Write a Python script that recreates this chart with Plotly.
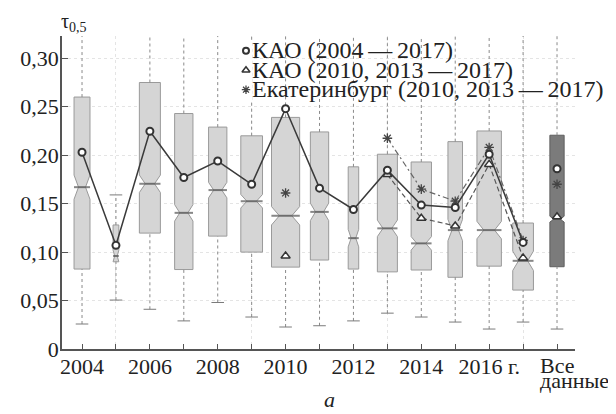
import plotly.graph_objects as go

# ---------------- data ----------------
positions = [2004, 2005, 2006, 2007, 2008, 2009, 2010, 2011, 2012, 2013, 2014, 2015, 2016, 2017, 2018]
categories = ["2004", "2005", "2006", "2007", "2008", "2009", "2010", "2011", "2012",
              "2013", "2014", "2015", "2016", "2017", "Все данные"]
lower_whisker = [0.0258, 0.0505, 0.041, 0.029, 0.048, 0.033, 0.0227, 0.024, 0.029,
                 0.037, 0.033, 0.0278, 0.0206, 0.0278, 0.0206]
q1 = [0.0825, 0.090, 0.1196, 0.0820, 0.1165, 0.100, 0.0845, 0.0918, 0.0825,
      0.0796, 0.0815, 0.074, 0.0855, 0.0608, 0.0849]
median = [0.167, 0.096, 0.1705, 0.1405, 0.164, 0.1525, 0.1375, 0.1415, 0.1144,
          0.1245, 0.109, 0.1227, 0.1227, 0.091, 0.134]
q3 = [0.260, 0.128, 0.275, 0.243, 0.229, 0.220, 0.239, 0.224, 0.188,
      0.201, 0.193, 0.214, 0.225, 0.130, 0.2206]
upper_whisker = [0.34, 0.159, 0.34, 0.34, 0.34, 0.34, 0.34, 0.34, 0.34,
                 0.34, 0.34, 0.34, 0.34, 0.34, 0.34]
notch_half = [0.0125, 0.006, 0.009, 0.0085, 0.008, 0.007, 0.0095, 0.009, 0.009,
              0.0085, 0.007, 0.011, 0.009, 0.010, 0.003]
box_width = [0.47, 0.17, 0.62, 0.54, 0.54, 0.64, 0.83, 0.54, 0.31,
             0.59, 0.60, 0.43, 0.72, 0.61, 0.42]

kao_all = [0.203, 0.107, 0.2247, 0.177, 0.194, 0.170, 0.248, 0.166, 0.144,
           0.1845, 0.1485, 0.146, 0.201, 0.110, 0.186]

sub_years = [2010, 2011, 2012, 2013, 2014, 2015, 2016, 2017]
kao_sub = [0.096, None, None, 0.180, 0.135, 0.127, 0.1905, 0.094]
ekb_sub = [0.161, None, None, 0.2175, 0.165, 0.1525, 0.208, 0.112]
kao_sub_all = 0.1364
ekb_sub_all = 0.170

legend_names = ["КАО (2004\u2009—\u20092017)",
                "КАО (2010, 2013\u2009—\u20092017)",
                "Екатеринбург (2010, 2013\u2009—\u20092017)"]
legend_rows = [0, 1, 2]

y_ticks = [0, 0.05, 0.10, 0.15, 0.20, 0.25, 0.30]
y_ticktext = ["0", "0,05", "0,10", "0,15", "0,20", "0,25", "0,30"]
x_ticktext = ["2004", "", "2006", "", "2008", "", "2010", "", "2012", "",
              "2014", "", "2016 г.", "", ""]

# ---------------- geometry / style ----------------
OFF = 8                     # page body margin of the browser
W, H = 608, 406             # figure size (page 616x414 incl. body margin)
L, R, T, B = 54, 41, 28, 65
X_RANGE = [2003.41, 2018.53]
Y_RANGE = [0, 0.323]
PX_PER_X = (W - L - R) / (X_RANGE[1] - X_RANGE[0])
NOTCHW = 0.28
SERIF = "Liberation Serif, Tinos, Times New Roman, DejaVu Serif, serif"
INK = "#222222"
MK = "#333333"


def px(xp):
    """page pixel x -> paper fraction"""
    return (xp - OFF - L) / (W - L - R)


def py(yp):
    """page pixel y -> paper fraction"""
    return (H - B - (yp - OFF)) / (H - T - B)


fig = go.Figure()

# whiskers (dotted)
wx, wy = [], []
for p, lw, a, b, uw in zip(positions, lower_whisker, q1, q3, upper_whisker):
    wx += [p, p, None, p, p, None]
    wy += [lw, a, None, b, uw, None]
fig.add_trace(go.Scatter(x=wx, y=wy, mode="lines", showlegend=False, hoverinfo="skip",
                         line=dict(color="#8a8a8a", width=1, dash="dot")))
# whisker caps
fig.add_trace(go.Scatter(x=positions + positions, y=lower_whisker + upper_whisker,
                         mode="markers", showlegend=False, hoverinfo="skip",
                         marker=dict(symbol="line-ew", size=9, color="#7a7a7a",
                                     line=dict(color="#7a7a7a", width=1))))

# boxes
for i, p in enumerate(positions):
    last = (i == len(positions) - 1)
    fig.add_trace(go.Box(
        x=[p], q1=[q1[i]], median=[median[i]], q3=[q3[i]],
        lowerfence=[q1[i]], upperfence=[q3[i]],
        notched=True, notchspan=[notch_half[i]], notchwidth=NOTCHW,
        width=box_width[i], whiskerwidth=0, boxpoints=False,
        fillcolor="#7b7b7b" if last else "#d5d5d5",
        line=dict(color="#5f5f5f" if last else "#9a9a9a", width=1),
        name=categories[i], showlegend=False))

# median lines (darker)
fig.add_trace(go.Scatter(
    x=positions[:-1], y=median[:-1], mode="markers", showlegend=False, hoverinfo="skip",
    marker=dict(symbol="line-ew", color="#555555",
                size=[w * PX_PER_X * (1 - NOTCHW) for w in box_width[:-1]],
                line=dict(color="#555555", width=2))))

star = dict(symbol="asterisk-open", size=8, color="#444444", line=dict(color="#444444", width=1.3))
tri = dict(symbol="triangle-up", size=8, color="white", line=dict(color=MK, width=1.5))
circ = dict(symbol="circle", size=7, color="white", line=dict(color=MK, width=2))

# series lines
fig.add_trace(go.Scatter(x=sub_years, y=ekb_sub, mode="lines+markers", showlegend=False,
                         line=dict(color="#666666", width=1.2, dash="6px,3px,2px,3px"),
                         marker=star))
fig.add_trace(go.Scatter(x=sub_years, y=kao_sub, mode="lines+markers", showlegend=False,
                         line=dict(color="#555555", width=1.2, dash="5px,3px"),
                         marker=tri))
fig.add_trace(go.Scatter(x=positions[:-1], y=kao_all[:-1], mode="lines+markers", showlegend=False,
                         line=dict(color="#3a3a3a", width=1.5), marker=circ))
# "all data" markers
fig.add_trace(go.Scatter(x=[positions[-1]], y=[kao_all[-1]], mode="markers", showlegend=False,
                         marker=circ))
fig.add_trace(go.Scatter(x=[positions[-1]], y=[ekb_sub_all], mode="markers", showlegend=False,
                         marker=star))
fig.add_trace(go.Scatter(x=[positions[-1]], y=[kao_sub_all], mode="markers", showlegend=False,
                         marker=tri))

# helper trace to activate the sparse vertical grid of xaxis2
fig.add_trace(go.Scatter(x=[None], y=[None], xaxis="x2", showlegend=False, hoverinfo="skip"))

# legend keys on a small helper axis (text as annotations)
key_markers = [dict(circ, size=6), dict(tri, size=7), dict(star, size=7)]
for row, m in zip(legend_rows, key_markers):
    fig.add_trace(go.Scatter(x=[0], y=[row], mode="markers", xaxis="x3", yaxis="y3",
                             showlegend=False, hoverinfo="skip", marker=m))

annotations = []
for row, name in zip(legend_rows, legend_names):
    annotations.append(dict(text=name, xref="paper", yref="paper",
                            x=px(250), y=py(50 + 19.5 * row), xanchor="left", yanchor="middle",
                            showarrow=False, font=dict(family=SERIF, size=24, color=INK)))
annotations += [
    dict(text="τ<sub>0,5</sub>", xref="paper", yref="paper", x=px(59), y=py(22),
         xanchor="left", yanchor="middle", showarrow=False,
         font=dict(family=SERIF, size=20, color=INK)),
    dict(text="Все", xref="paper", yref="paper", x=px(538), y=py(365),
         xanchor="left", yanchor="middle", showarrow=False,
         font=dict(family=SERIF, size=22, color=INK)),
    dict(text="данные", xref="paper", yref="paper", x=px(538), y=py(380),
         xanchor="left", yanchor="middle", showarrow=False,
         font=dict(family=SERIF, size=22, color=INK)),
    dict(text="<i>a</i>", xref="paper", yref="paper", x=px(329), y=py(414),
         xanchor="center", yanchor="bottom", showarrow=False,
         font=dict(family=SERIF, size=22, color=INK)),
]

fig.update_layout(
    template="none",
    width=W, height=H, margin=dict(l=L, r=R, t=T, b=B, pad=0, autoexpand=False),
    paper_bgcolor="white", plot_bgcolor="white",
    boxmode="overlay",
    font=dict(family=SERIF, size=22, color=INK),
    showlegend=False,
    annotations=annotations,
    xaxis=dict(range=X_RANGE, tickmode="array", tickvals=positions, ticktext=x_ticktext,
               ticks="inside", ticklen=5, tickcolor="#555", showline=True, automargin=False,
               linecolor="#555", linewidth=1.5, showgrid=False, zeroline=False,
               ticklabelstandoff=-3, tickfont=dict(family=SERIF, size=22, color=INK)),
    xaxis2=dict(range=X_RANGE, overlaying="x", matches="x", tickmode="array",
                tickvals=[2005, 2009, 2013, 2017], showticklabels=False, ticks="",
                showgrid=True, gridcolor="#e4e4e4", griddash="dot", gridwidth=1,
                showline=False, zeroline=False, automargin=False),
    yaxis=dict(range=Y_RANGE, tickmode="array", tickvals=y_ticks, ticktext=y_ticktext,
               ticks="inside", ticklen=6, tickcolor="#555", showline=True, automargin=False,
               linecolor="#555", linewidth=1.5, showgrid=True, gridcolor="#e4e4e4",
               griddash="dot", zeroline=False, ticklabelstandoff=-3,
               tickfont=dict(family=SERIF, size=22, color=INK)),
    xaxis3=dict(domain=[px(240), px(252)], range=[-1, 1], visible=False,
                fixedrange=True, anchor="y3"),
    yaxis3=dict(domain=[py(100), py(41)], range=[2.53, -0.5], visible=False,
                fixedrange=True, anchor="x3"),
)

fig.write_html("out.html")
